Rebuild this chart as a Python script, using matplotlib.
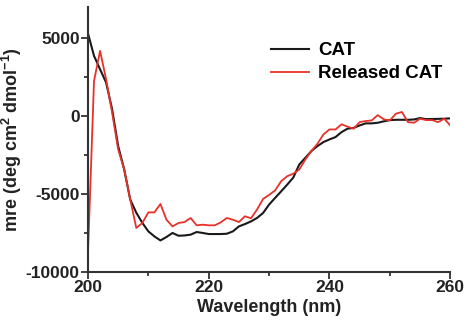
import numpy as np
import matplotlib.pyplot as plt
from matplotlib.ticker import MultipleLocator

plt.rcParams["font.family"] = "Liberation Sans"
plt.rcParams["font.weight"] = "bold"
plt.rcParams["mathtext.fontset"] = "custom"
plt.rcParams["mathtext.rm"] = "Liberation Sans:bold"
plt.rcParams["mathtext.bf"] = "Liberation Sans:bold"
plt.rcParams["mathtext.default"] = "bf"
plt.rcParams["axes.unicode_minus"] = False

# wavelength, 1 nm steps
wavelength = np.arange(200, 261)

# CD spectra (mre, deg cm2 dmol-1)
cat = [5300, 3860, 3000, 2150, 430, -1930, -3430, -5360, -6200, -6850,
       -7400, -7720, -7980, -7760, -7500, -7680, -7660, -7610, -7440, -7500,
       -7570, -7570, -7570, -7550, -7400, -7080, -6930, -6760, -6540, -6220,
       -5680, -5250, -4830, -4400, -3950, -3110, -2680, -2250, -1930, -1670,
       -1500, -1350, -1030, -810, -760, -600, -470, -470, -430, -340,
       -260, -240, -240, -240, -220, -130, -200, -190, -180, -170, -150]
released = [-8800, 2250, 4180, 2360, 220, -2140, -3430, -5360, -7180, -6860,
            -6180, -6180, -5640, -6650, -7080, -6860, -6800, -6540, -7010, -6970,
            -7010, -7010, -6820, -6540, -6650, -6800, -6430, -6560, -6000, -5320,
            -5060, -4770, -4180, -3860, -3700, -3430, -2790, -2250, -1780, -1180,
            -860, -860, -530, -680, -810, -390, -320, -280, 60, -210,
            -280, 150, 260, -390, -430, -170, -260, -260, -390, -170, -600]

fig = plt.figure(figsize=(4.68, 3.3), dpi=100)
ax = fig.add_axes([0.188, 0.176, 0.774, 0.803])

ax.plot(wavelength, cat, color="#1a1a1a", lw=1.5, label="CAT")
ax.plot(wavelength, released, color="#e8312a", lw=1.3, label="Released CAT")

ax.set_xlim(200, 260)
ax.set_ylim(-10000, 7000)
ax.xaxis.set_major_locator(MultipleLocator(20))
ax.xaxis.set_minor_locator(MultipleLocator(10))
ax.yaxis.set_major_locator(MultipleLocator(5000))
ax.yaxis.set_minor_locator(MultipleLocator(2500))
ax.tick_params(which="both", direction="out", width=1.3, colors="#333333",
               labelcolor="#222222", labelsize=12.5, pad=1)
ax.tick_params(which="major", length=5)
ax.tick_params(which="minor", length=3)

for side in ["top", "right"]:
    ax.spines[side].set_visible(False)
for side in ["left", "bottom"]:
    ax.spines[side].set_linewidth(1.5)
    ax.spines[side].set_color("#333333")

ax.set_xlabel("Wavelength (nm)", fontsize=13, fontweight="bold", color="#222222", labelpad=3)
ax.set_ylabel(r"mre (deg cm$^{2}$ dmol$^{-1}$)", fontsize=13, fontweight="bold",
              color="#222222", labelpad=1)

ax.legend(loc="upper left", bbox_to_anchor=(0.46, 0.93), frameon=False,
          fontsize=13.5, handlelength=2.0, handletextpad=0.5, labelspacing=0.3)

plt.savefig("out.png", dpi=100)
